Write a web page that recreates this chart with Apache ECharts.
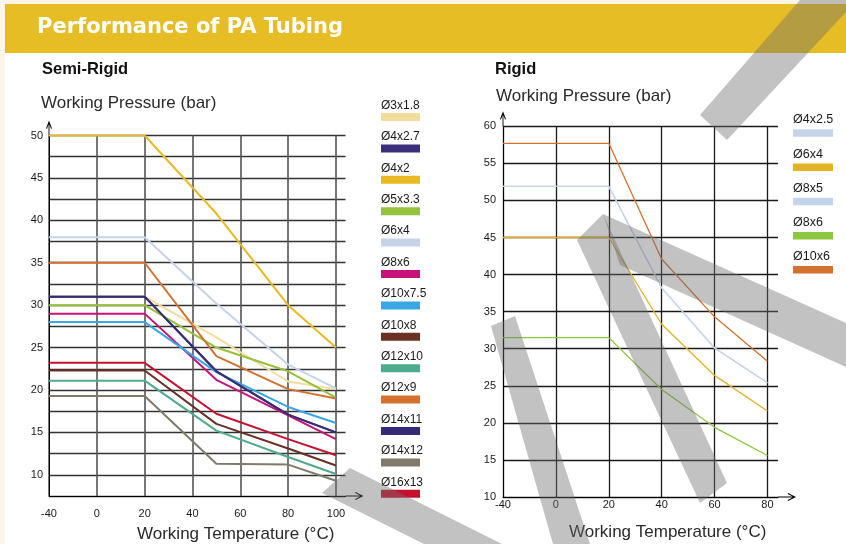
<!DOCTYPE html>
<html>
<head>
<meta charset="utf-8">
<title>Performance of PA Tubing</title>
<script src="https://cdn.jsdelivr.net/npm/echarts@6/dist/echarts.min.js"></script>
<style>
  html, body { margin: 0; padding: 0; background: #fcf6e8; }
  #main { width: 846px; height: 544px; }
</style>
</head>
<body>
<div id="main"></div>
<script>
// 半刚性 Semi-Rigid
const semiTemps = [-40, 20, 50, 80, 100];
const semiTempLabels = ['-40', '0', '20', '40', '60', '80', '100'];
const semiPressureLabels = [10, 15, 20, 25, 30, 35, 40, 45, 50];
const semiNames = ['Ø3x1.8', 'Ø4x2.7', 'Ø4x2', 'Ø5x3.3', 'Ø6x4', 'Ø8x6', 'Ø10x7.5',
  'Ø10x8', 'Ø12x10', 'Ø12x9', 'Ø14x11', 'Ø14x12', 'Ø16x13'];
const semiColors = ['#f4dc9b', '#3b2f7c', '#e8b920', '#95c13b', '#c6d4ea', '#c8127a', '#3aa7e4',
  '#6a3024', '#4eab8d', '#d4712f', '#362c76', '#807a69', '#c8102e'];
const semiPressure = [
  [31, 31, 26.2, 21, 20.1],
  [31, 31, 22.2, 17.1, 15],
  [50, 50, 40.8, 30, 25],
  [30, 30, 25, 22.2, 19.1],
  [38, 38, 30.2, 23, 20.2],
  [29, 29, 21.2, 17, 14.2],
  [28, 28, 22.1, 18, 16.1],
  [22.3, 22.3, 16, 13.1, 11.1],
  [21.1, 21.1, 15.2, 12.1, 10.1],
  [35, 35, 24, 20.1, 19],
  [31, 31, 22.2, 17.1, 15],
  [19.3, 19.3, 11.3, 11.2, 9.3],
  [23.2, 23.2, 17.2, 14.2, 12.3]
];

// 刚性 Rigid
const rigidTemps = [-40, 20, 40, 60, 80];
const rigidTempLabels = ['-40', '0', '20', '40', '60', '80'];
const rigidPressureLabels = [10, 15, 20, 25, 30, 35, 40, 45, 50, 55, 60];
const rigidNames = ['Ø4x2.5', 'Ø6x4', 'Ø8x5', 'Ø8x6', 'Ø10x6'];
const rigidColors = ['#c6d4ea', '#e2b324', '#c6d4ea', '#8dc63f', '#d4712f'];
const rigidPressure = [
  [51.9, 51.9, 38.2, 30.1, 25.4],
  [45, 45, 33.3, 26.4, 21.6],
  [51.9, 51.9, 38.2, 30.1, 25.4],
  [31.5, 31.5, 24.5, 19.4, 15.6],
  [57.7, 57.7, 42.1, 34.3, 28.3]
];

// 背景水印的灰色斜条
const watermark = [
  [[322, 493], [350, 468], [502, 544], [424, 544]],
  [[491, 326], [515, 316], [590, 544], [553, 544]],
  [[577, 240], [603, 214], [727, 483], [700, 503]],
  [[603, 214], [846, 323], [846, 367], [620, 265]],
  [[700, 115], [800, 0], [846, 0], [846, 12], [727, 140]]
];

// 温度轴 -40..0 与 0..20 等宽，所以负温度压缩一半
function tempToAxis(t) {
  return t < 0 ? t / 2 : t;
}

const labelFont = { fontFamily: 'Liberation Sans', fontSize: 11, color: '#1a1a1a' };
const yArrow = 'path://M0,8 L3,0 L6,8 L5,8.3 L3,2.6 L1,8.3 Z M2.55,1.5 L3.45,1.5 L3.45,15 L2.55,15 Z';
const xArrow = 'path://M0,8 L4,0 L8,8 L7,8.3 L4,2.4 L1,8.3 Z M3.5,1.5 L4.5,1.5 L4.5,18 L3.5,18 Z';

function makeSeries(names, colors, temps, values, gridIndex, width) {
  return names.map((name, i) => ({
    name,
    type: 'line',
    xAxisIndex: gridIndex,
    yAxisIndex: gridIndex,
    symbol: 'none',
    silent: true,
    lineStyle: { color: colors[i], width },
    data: temps.map((t, j) => [tempToAxis(t), values[i][j]])
  }));
}

// 自己画的图例：名字在上，色条在下
function makeLegend(names, colors, x, top, gap, fontSize, textGap, barW, barH) {
  const items = [];
  names.forEach((name, i) => {
    const y = top + gap * i;
    items.push({
      type: 'rect',
      shape: { x, y, width: barW, height: barH },
      style: { fill: colors[i] }
    });
    items.push({
      type: 'text',
      x,
      y: y - textGap - fontSize * 0.3465,
      style: {
        text: name, fill: '#1a1a1a', verticalAlign: 'middle',
        font: `${fontSize}px "Liberation Sans"`
      }
    });
  });
  return items;
}

function text(str, x, baseline, size, weight, color, family) {
  return {
    type: 'text',
    x,
    y: baseline - size * 0.3465,
    style: {
      text: str, fill: color, verticalAlign: 'middle',
      font: `${weight} ${size}px ${family || '"Liberation Sans"'}`
    }
  };
}

const myChart = echarts.init(document.getElementById('main'));

const option = {
  animation: false,
  backgroundColor: '#fcf6e8',
  graphic: [
    { type: 'rect', z: -1, shape: { x: 5, y: 5, width: 841, height: 539 }, style: { fill: '#ffffff' } },
    { type: 'rect', z: -1, shape: { x: 5, y: 4, width: 841, height: 49 }, style: { fill: '#e6bd24' } },
    text('Performance of PA Tubing', 37, 35, 21, 'bold', '#ffffff', '"DejaVu Sans"'),
    text('Semi-Rigid', 42, 75, 16.5, 'bold', '#111'),
    text('Rigid', 495, 75, 16.5, 'bold', '#111'),
    text('Working Pressure (bar)', 41, 109, 17, 'normal', '#2a2a2a'),
    text('Working Pressure (bar)', 496, 102.6, 17, 'normal', '#2a2a2a'),
    text('Working Temperature (°C)', 137, 540, 17, 'normal', '#2a2a2a'),
    text('Working Temperature (°C)', 569, 538.3, 17, 'normal', '#2a2a2a'),
    ...makeLegend(semiNames, semiColors, 381, 113, 31.4, 12, 3.3, 39, 8),
    ...makeLegend(rigidNames, rigidColors, 793, 129.3, 34.2, 12.5, 5, 40, 7.5),
    ...watermark.map(points => ({
      type: 'polygon',
      z: 100,
      silent: true,
      shape: { points },
      style: { fill: 'rgba(110,110,110,0.42)' }
    }))
  ],
  grid: [
    { left: 49, top: 135.5, width: 296.5, height: 360.5 },
    { left: 503, top: 126.3, width: 275, height: 370.7 }
  ],
  xAxis: [
    {
      type: 'value', gridIndex: 0, min: -20, max: 104, interval: 20,
      axisLine: {
        onZero: false, symbol: ['none', xArrow], symbolSize: [8, 18], symbolOffset: [0, 9],
        lineStyle: { color: '#000', width: 1 }
      },
      axisTick: { show: false },
      axisLabel: {
        ...labelFont, margin: 12, showMaxLabel: false,
        formatter: v => semiTempLabels[Math.round((v + 20) / 20)] || ''
      },
      splitLine: { show: true, showMaxLine: false, lineStyle: { color: '#555', width: 1.6 } }
    },
    {
      type: 'value', gridIndex: 1, min: -20, max: 84, interval: 20,
      axisLine: {
        onZero: false, symbol: ['none', xArrow], symbolSize: [8, 18], symbolOffset: [0, 9],
        lineStyle: { color: '#000', width: 1 }
      },
      axisTick: { show: false },
      axisLabel: {
        ...labelFont, margin: 2, showMaxLabel: false,
        formatter: v => rigidTempLabels[Math.round((v + 20) / 20)] || ''
      },
      splitLine: { show: true, showMaxLine: false, lineStyle: { color: '#1a1a1a', width: 1.3 } }
    }
  ],
  yAxis: [
    {
      type: 'value', gridIndex: 0, min: 7.5, max: 50, interval: 2.5,
      axisLine: {
        show: true, onZero: false, symbol: ['none', yArrow], symbolSize: [6, 15], symbolOffset: [0, 7.5],
        lineStyle: { color: '#000', width: 1 }
      },
      axisTick: { show: false },
      axisLabel: {
        ...labelFont, margin: 6,
        formatter: v => (semiPressureLabels.includes(v) ? String(v) : '')
      },
      splitLine: { show: true, lineStyle: { color: '#333', width: 1.4 } }
    },
    {
      type: 'value', gridIndex: 1, min: 10, max: 60, interval: 5,
      axisLine: {
        show: true, onZero: false, symbol: ['none', yArrow], symbolSize: [6, 15], symbolOffset: [0, 7.5],
        lineStyle: { color: '#000', width: 1 }
      },
      axisTick: { show: false },
      axisLabel: {
        ...labelFont, margin: 7,
        formatter: v => (rigidPressureLabels.includes(v) ? String(v) : '')
      },
      splitLine: { show: true, lineStyle: { color: '#1a1a1a', width: 1.3 } }
    }
  ],
  series: [
    ...makeSeries(semiNames, semiColors, semiTemps, semiPressure, 0, 2),
    ...makeSeries(rigidNames, rigidColors, rigidTemps, rigidPressure, 1, 1.3)
  ]
};

myChart.setOption(option);
</script>
</body>
</html>
